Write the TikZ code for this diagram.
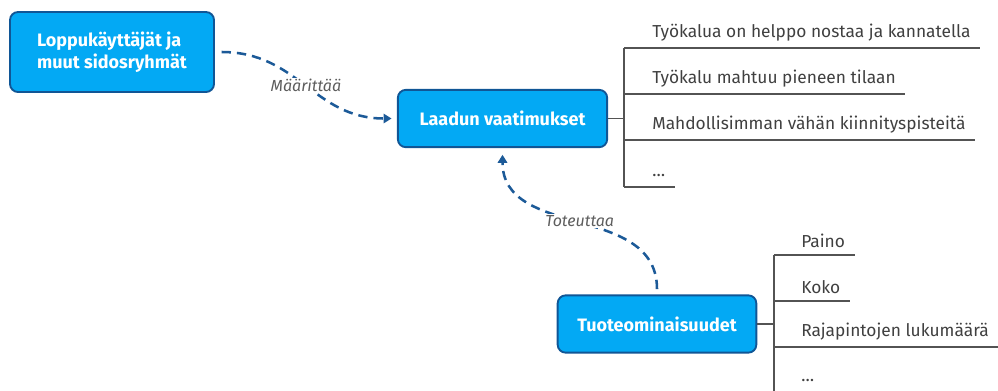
\documentclass[tikz,border=0pt]{standalone}
\usepackage{fontspec}
\setmainfont{Fira Sans}
\usepackage{xcolor}
\usetikzlibrary{positioning, shapes}
\usetikzlibrary{arrows.meta}
\definecolor{boxfill}{RGB}{3,169,244}
\definecolor{boxline}{RGB}{16,86,150}
\definecolor{flowline}{RGB}{28,90,152}
\definecolor{itemtext}{RGB}{64,64,64}

\begin{document}
\begin{tikzpicture}[x=0.75pt,y=-0.75pt]
        \tikzset{box/.style = {draw=boxline, line width=1.4pt, fill=boxfill, rounded corners=6pt, text=white, font=\bfseries\fontsize{13.5}{16.5}\selectfont, minimum height=43pt}}
        \tikzset{flow/.style = {draw=flowline, line width=1.9pt, dash pattern=on 7pt off 4.5pt, -{Triangle[length=6pt,width=7pt]}}}
        \tikzset{verb/.style = {fill=white, text=itemtext!85, inner sep=1pt, font=\itshape\fontsize{12}{14}\selectfont}}
        \tikzset{item/.style = {anchor=south west, inner xsep=0pt, inner ysep=5pt, text=itemtext, font=\fontsize{13}{15}\selectfont}}
        \tikzset{branch/.style = {draw=itemtext!90, line width=0.9pt}}
        \useasboundingbox (0,0) rectangle (998,390);

        \node[box, minimum width=153pt, minimum height=60pt, align=left] (users) at (112,52) {Loppukäyttäjät ja\\muut sidosryhmät};
        \node[box, minimum width=157pt] (quality) at (502.5,118.5) {Laadun vaatimukset};
        \node[box, minimum width=149pt] (product) at (657,324) {Tuoteominaisuudet};

        % requirement branches
        \coordinate (q1) at (624,48);
        \coordinate (q2) at (624,94);
        \coordinate (q3) at (624,140);
        \coordinate (q4) at (624,187);
        \node[item] (r1) at (652,48) {Työkalua on helppo nostaa ja kannatella};
        \node[item] (r2) at (652,94) {Työkalu mahtuu pieneen tilaan};
        \node[item] (r3) at (652,140) {Mahdollisimman vähän kiinnityspisteitä};
        \node[item] (r4) at (652,184) {\dots};

        \draw[branch] (quality.east) -- (quality.east -| q1);
        \draw[branch] (q1) -- (q4);
        \draw[branch] (q1) -- ([xshift=7pt]q1 -| r1.east);
        \draw[branch] (q2) -- ([xshift=7pt]q2 -| r2.east);
        \draw[branch] (q3) -- ([xshift=7pt]q3 -| r3.east);
        \draw[branch] (q4) -- ([xshift=7pt]q4 -| r4.east);

        % property branches
        \coordinate (p1) at (774,255);
        \coordinate (p2) at (774,301);
        \coordinate (p3) at (774,347);
        \coordinate (p4) at (774,394);
        \node[item] (s1) at (801,255) {Paino};
        \node[item] (s2) at (801,301) {Koko};
        \node[item] (s3) at (801,347) {Rajapintojen lukumäärä};
        \node[item] (s4) at (801,389) {\dots};

        \draw[branch] (product.east) -- (product.east -| p1);
        \draw[branch] (p1) -- (p4);
        \draw[branch] (p1) -- ([xshift=7pt]p1 -| s1.east);
        \draw[branch] (p2) -- ([xshift=7pt]p2 -| s2.east);
        \draw[branch] (p3) -- ([xshift=7pt]p3 -| s3.east);
        \draw[branch] (p4) -- ([xshift=7pt]p4 -| s4.east);

        % arrows
        \draw[flow, shorten <=5pt, shorten >=4pt] (users.east) to[out=0, in=180, looseness=1.1] node[verb]{Määrittää} (quality.west);
        \draw[flow, shorten <=4pt, shorten >=5pt] (product.north) to[out=90, in=270, looseness=1.1] node[verb]{Toteuttaa} (quality.south);

    \end{tikzpicture}
\end{document}
